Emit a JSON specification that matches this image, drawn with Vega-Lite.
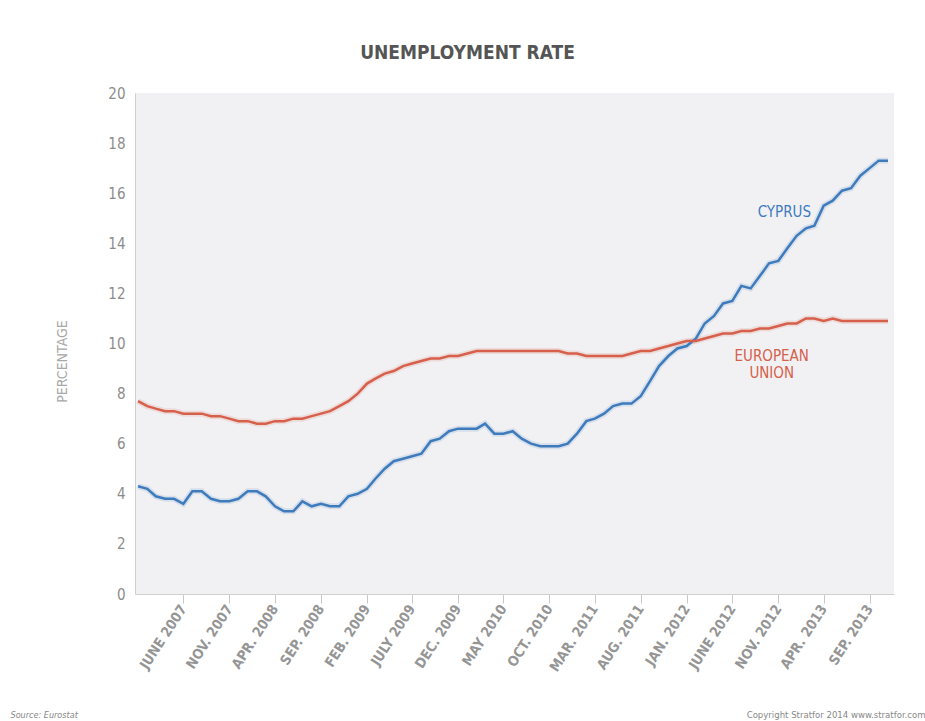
{
  "$schema": "https://vega.github.io/schema/vega-lite/v6.json",
  "width": 759,
  "height": 501,
  "autosize": {"type": "none"},
  "padding": {"left": 135, "top": 93, "right": 31, "bottom": 127},
  "background": "#ffffff",
  "config": {
    "font": "'DejaVu Sans Condensed', 'Liberation Sans Narrow', 'Open Sans', sans-serif",
    "view": {"fill": "#f1f1f3", "stroke": null}
  },
  "title": {
    "text": "UNEMPLOYMENT RATE",
    "anchor": "middle",
    "frame": "bounds",
    "fontSize": 19,
    "fontWeight": "bold",
    "color": "#555555",
    "baseline": "alphabetic",
    "offset": 8
  },
  "datasets": {
    "series": [
      {"date": "2007-01-01", "series": "Cyprus", "value": 4.3},
      {"date": "2007-02-01", "series": "Cyprus", "value": 4.2},
      {"date": "2007-03-01", "series": "Cyprus", "value": 3.9},
      {"date": "2007-04-01", "series": "Cyprus", "value": 3.8},
      {"date": "2007-05-01", "series": "Cyprus", "value": 3.8},
      {"date": "2007-06-01", "series": "Cyprus", "value": 3.6},
      {"date": "2007-07-01", "series": "Cyprus", "value": 4.1},
      {"date": "2007-08-01", "series": "Cyprus", "value": 4.1},
      {"date": "2007-09-01", "series": "Cyprus", "value": 3.8},
      {"date": "2007-10-01", "series": "Cyprus", "value": 3.7},
      {"date": "2007-11-01", "series": "Cyprus", "value": 3.7},
      {"date": "2007-12-01", "series": "Cyprus", "value": 3.8},
      {"date": "2008-01-01", "series": "Cyprus", "value": 4.1},
      {"date": "2008-02-01", "series": "Cyprus", "value": 4.1},
      {"date": "2008-03-01", "series": "Cyprus", "value": 3.9},
      {"date": "2008-04-01", "series": "Cyprus", "value": 3.5},
      {"date": "2008-05-01", "series": "Cyprus", "value": 3.3},
      {"date": "2008-06-01", "series": "Cyprus", "value": 3.3},
      {"date": "2008-07-01", "series": "Cyprus", "value": 3.7},
      {"date": "2008-08-01", "series": "Cyprus", "value": 3.5},
      {"date": "2008-09-01", "series": "Cyprus", "value": 3.6},
      {"date": "2008-10-01", "series": "Cyprus", "value": 3.5},
      {"date": "2008-11-01", "series": "Cyprus", "value": 3.5},
      {"date": "2008-12-01", "series": "Cyprus", "value": 3.9},
      {"date": "2009-01-01", "series": "Cyprus", "value": 4.0},
      {"date": "2009-02-01", "series": "Cyprus", "value": 4.2},
      {"date": "2009-03-01", "series": "Cyprus", "value": 4.6},
      {"date": "2009-04-01", "series": "Cyprus", "value": 5.0},
      {"date": "2009-05-01", "series": "Cyprus", "value": 5.3},
      {"date": "2009-06-01", "series": "Cyprus", "value": 5.4},
      {"date": "2009-07-01", "series": "Cyprus", "value": 5.5},
      {"date": "2009-08-01", "series": "Cyprus", "value": 5.6},
      {"date": "2009-09-01", "series": "Cyprus", "value": 6.1},
      {"date": "2009-10-01", "series": "Cyprus", "value": 6.2},
      {"date": "2009-11-01", "series": "Cyprus", "value": 6.5},
      {"date": "2009-12-01", "series": "Cyprus", "value": 6.6},
      {"date": "2010-01-01", "series": "Cyprus", "value": 6.6},
      {"date": "2010-02-01", "series": "Cyprus", "value": 6.6},
      {"date": "2010-03-01", "series": "Cyprus", "value": 6.8},
      {"date": "2010-04-01", "series": "Cyprus", "value": 6.4},
      {"date": "2010-05-01", "series": "Cyprus", "value": 6.4},
      {"date": "2010-06-01", "series": "Cyprus", "value": 6.5},
      {"date": "2010-07-01", "series": "Cyprus", "value": 6.2},
      {"date": "2010-08-01", "series": "Cyprus", "value": 6.0},
      {"date": "2010-09-01", "series": "Cyprus", "value": 5.9},
      {"date": "2010-10-01", "series": "Cyprus", "value": 5.9},
      {"date": "2010-11-01", "series": "Cyprus", "value": 5.9},
      {"date": "2010-12-01", "series": "Cyprus", "value": 6.0},
      {"date": "2011-01-01", "series": "Cyprus", "value": 6.4},
      {"date": "2011-02-01", "series": "Cyprus", "value": 6.9},
      {"date": "2011-03-01", "series": "Cyprus", "value": 7.0},
      {"date": "2011-04-01", "series": "Cyprus", "value": 7.2},
      {"date": "2011-05-01", "series": "Cyprus", "value": 7.5},
      {"date": "2011-06-01", "series": "Cyprus", "value": 7.6},
      {"date": "2011-07-01", "series": "Cyprus", "value": 7.6},
      {"date": "2011-08-01", "series": "Cyprus", "value": 7.9},
      {"date": "2011-09-01", "series": "Cyprus", "value": 8.5},
      {"date": "2011-10-01", "series": "Cyprus", "value": 9.1},
      {"date": "2011-11-01", "series": "Cyprus", "value": 9.5},
      {"date": "2011-12-01", "series": "Cyprus", "value": 9.8},
      {"date": "2012-01-01", "series": "Cyprus", "value": 9.9},
      {"date": "2012-02-01", "series": "Cyprus", "value": 10.2},
      {"date": "2012-03-01", "series": "Cyprus", "value": 10.8},
      {"date": "2012-04-01", "series": "Cyprus", "value": 11.1},
      {"date": "2012-05-01", "series": "Cyprus", "value": 11.6},
      {"date": "2012-06-01", "series": "Cyprus", "value": 11.7},
      {"date": "2012-07-01", "series": "Cyprus", "value": 12.3},
      {"date": "2012-08-01", "series": "Cyprus", "value": 12.2},
      {"date": "2012-09-01", "series": "Cyprus", "value": 12.7},
      {"date": "2012-10-01", "series": "Cyprus", "value": 13.2},
      {"date": "2012-11-01", "series": "Cyprus", "value": 13.3},
      {"date": "2012-12-01", "series": "Cyprus", "value": 13.8},
      {"date": "2013-01-01", "series": "Cyprus", "value": 14.3},
      {"date": "2013-02-01", "series": "Cyprus", "value": 14.6},
      {"date": "2013-03-01", "series": "Cyprus", "value": 14.7},
      {"date": "2013-04-01", "series": "Cyprus", "value": 15.5},
      {"date": "2013-05-01", "series": "Cyprus", "value": 15.7},
      {"date": "2013-06-01", "series": "Cyprus", "value": 16.1},
      {"date": "2013-07-01", "series": "Cyprus", "value": 16.2},
      {"date": "2013-08-01", "series": "Cyprus", "value": 16.7},
      {"date": "2013-09-01", "series": "Cyprus", "value": 17.0},
      {"date": "2013-10-01", "series": "Cyprus", "value": 17.3},
      {"date": "2013-11-01", "series": "Cyprus", "value": 17.3},
      {"date": "2007-01-01", "series": "European Union", "value": 7.7},
      {"date": "2007-02-01", "series": "European Union", "value": 7.5},
      {"date": "2007-03-01", "series": "European Union", "value": 7.4},
      {"date": "2007-04-01", "series": "European Union", "value": 7.3},
      {"date": "2007-05-01", "series": "European Union", "value": 7.3},
      {"date": "2007-06-01", "series": "European Union", "value": 7.2},
      {"date": "2007-07-01", "series": "European Union", "value": 7.2},
      {"date": "2007-08-01", "series": "European Union", "value": 7.2},
      {"date": "2007-09-01", "series": "European Union", "value": 7.1},
      {"date": "2007-10-01", "series": "European Union", "value": 7.1},
      {"date": "2007-11-01", "series": "European Union", "value": 7.0},
      {"date": "2007-12-01", "series": "European Union", "value": 6.9},
      {"date": "2008-01-01", "series": "European Union", "value": 6.9},
      {"date": "2008-02-01", "series": "European Union", "value": 6.8},
      {"date": "2008-03-01", "series": "European Union", "value": 6.8},
      {"date": "2008-04-01", "series": "European Union", "value": 6.9},
      {"date": "2008-05-01", "series": "European Union", "value": 6.9},
      {"date": "2008-06-01", "series": "European Union", "value": 7.0},
      {"date": "2008-07-01", "series": "European Union", "value": 7.0},
      {"date": "2008-08-01", "series": "European Union", "value": 7.1},
      {"date": "2008-09-01", "series": "European Union", "value": 7.2},
      {"date": "2008-10-01", "series": "European Union", "value": 7.3},
      {"date": "2008-11-01", "series": "European Union", "value": 7.5},
      {"date": "2008-12-01", "series": "European Union", "value": 7.7},
      {"date": "2009-01-01", "series": "European Union", "value": 8.0},
      {"date": "2009-02-01", "series": "European Union", "value": 8.4},
      {"date": "2009-03-01", "series": "European Union", "value": 8.6},
      {"date": "2009-04-01", "series": "European Union", "value": 8.8},
      {"date": "2009-05-01", "series": "European Union", "value": 8.9},
      {"date": "2009-06-01", "series": "European Union", "value": 9.1},
      {"date": "2009-07-01", "series": "European Union", "value": 9.2},
      {"date": "2009-08-01", "series": "European Union", "value": 9.3},
      {"date": "2009-09-01", "series": "European Union", "value": 9.4},
      {"date": "2009-10-01", "series": "European Union", "value": 9.4},
      {"date": "2009-11-01", "series": "European Union", "value": 9.5},
      {"date": "2009-12-01", "series": "European Union", "value": 9.5},
      {"date": "2010-01-01", "series": "European Union", "value": 9.6},
      {"date": "2010-02-01", "series": "European Union", "value": 9.7},
      {"date": "2010-03-01", "series": "European Union", "value": 9.7},
      {"date": "2010-04-01", "series": "European Union", "value": 9.7},
      {"date": "2010-05-01", "series": "European Union", "value": 9.7},
      {"date": "2010-06-01", "series": "European Union", "value": 9.7},
      {"date": "2010-07-01", "series": "European Union", "value": 9.7},
      {"date": "2010-08-01", "series": "European Union", "value": 9.7},
      {"date": "2010-09-01", "series": "European Union", "value": 9.7},
      {"date": "2010-10-01", "series": "European Union", "value": 9.7},
      {"date": "2010-11-01", "series": "European Union", "value": 9.7},
      {"date": "2010-12-01", "series": "European Union", "value": 9.6},
      {"date": "2011-01-01", "series": "European Union", "value": 9.6},
      {"date": "2011-02-01", "series": "European Union", "value": 9.5},
      {"date": "2011-03-01", "series": "European Union", "value": 9.5},
      {"date": "2011-04-01", "series": "European Union", "value": 9.5},
      {"date": "2011-05-01", "series": "European Union", "value": 9.5},
      {"date": "2011-06-01", "series": "European Union", "value": 9.5},
      {"date": "2011-07-01", "series": "European Union", "value": 9.6},
      {"date": "2011-08-01", "series": "European Union", "value": 9.7},
      {"date": "2011-09-01", "series": "European Union", "value": 9.7},
      {"date": "2011-10-01", "series": "European Union", "value": 9.8},
      {"date": "2011-11-01", "series": "European Union", "value": 9.9},
      {"date": "2011-12-01", "series": "European Union", "value": 10.0},
      {"date": "2012-01-01", "series": "European Union", "value": 10.1},
      {"date": "2012-02-01", "series": "European Union", "value": 10.1},
      {"date": "2012-03-01", "series": "European Union", "value": 10.2},
      {"date": "2012-04-01", "series": "European Union", "value": 10.3},
      {"date": "2012-05-01", "series": "European Union", "value": 10.4},
      {"date": "2012-06-01", "series": "European Union", "value": 10.4},
      {"date": "2012-07-01", "series": "European Union", "value": 10.5},
      {"date": "2012-08-01", "series": "European Union", "value": 10.5},
      {"date": "2012-09-01", "series": "European Union", "value": 10.6},
      {"date": "2012-10-01", "series": "European Union", "value": 10.6},
      {"date": "2012-11-01", "series": "European Union", "value": 10.7},
      {"date": "2012-12-01", "series": "European Union", "value": 10.8},
      {"date": "2013-01-01", "series": "European Union", "value": 10.8},
      {"date": "2013-02-01", "series": "European Union", "value": 11.0},
      {"date": "2013-03-01", "series": "European Union", "value": 11.0},
      {"date": "2013-04-01", "series": "European Union", "value": 10.9},
      {"date": "2013-05-01", "series": "European Union", "value": 11.0},
      {"date": "2013-06-01", "series": "European Union", "value": 10.9},
      {"date": "2013-07-01", "series": "European Union", "value": 10.9},
      {"date": "2013-08-01", "series": "European Union", "value": 10.9},
      {"date": "2013-09-01", "series": "European Union", "value": 10.9},
      {"date": "2013-10-01", "series": "European Union", "value": 10.9},
      {"date": "2013-11-01", "series": "European Union", "value": 10.9}
    ],
    "labels": [
      {"date": "2012-11-21", "series": "Cyprus", "value": 15.25, "label": "CYPRUS"},
      {"date": "2012-10-10", "series": "European Union", "value": 9.52, "label": "EUROPEAN\nUNION"}
    ]
  },
  "layer": [
    {
      "data": {"name": "series"},
      "mark": {"type": "line", "strokeWidth": 6, "opacity": 0.15},
      "encoding": {
        "x": {"field": "date", "type": "temporal", "scale": {"type": "utc", "domain": ["2006-12-22", "2013-11-21"]}, "axis": null},
        "y": {"field": "value", "type": "quantitative", "scale": {"domain": [0, 20], "nice": false}, "axis": null},
        "color": {"field": "series", "type": "nominal", "scale": {"domain": ["Cyprus", "European Union"], "range": ["#3e7bbd", "#d6604b"]}, "legend": null}
      }
    },
    {
      "data": {"name": "series"},
      "mark": {"type": "line", "strokeWidth": 2.5},
      "encoding": {
        "x": {
          "field": "date", "type": "temporal",
          "scale": {"type": "utc", "domain": ["2006-12-22", "2013-11-21"]},
          "axis": {
            "orient": "bottom",
            "values": [
              {"year": 2007, "month": 6, "date": 1, "utc": true},
              {"year": 2007, "month": 11, "date": 1, "utc": true},
              {"year": 2008, "month": 4, "date": 1, "utc": true},
              {"year": 2008, "month": 9, "date": 1, "utc": true},
              {"year": 2009, "month": 2, "date": 1, "utc": true},
              {"year": 2009, "month": 7, "date": 1, "utc": true},
              {"year": 2009, "month": 12, "date": 1, "utc": true},
              {"year": 2010, "month": 5, "date": 1, "utc": true},
              {"year": 2010, "month": 10, "date": 1, "utc": true},
              {"year": 2011, "month": 3, "date": 1, "utc": true},
              {"year": 2011, "month": 8, "date": 1, "utc": true},
              {"year": 2012, "month": 1, "date": 1, "utc": true},
              {"year": 2012, "month": 6, "date": 1, "utc": true},
              {"year": 2012, "month": 11, "date": 1, "utc": true},
              {"year": 2013, "month": 4, "date": 1, "utc": true},
              {"year": 2013, "month": 9, "date": 1, "utc": true}
            ],
            "labelExpr": "(utcmonth(datum.value) == 4 ? 'MAY' : utcmonth(datum.value) == 5 ? 'JUNE' : utcmonth(datum.value) == 6 ? 'JULY' : upper(utcFormat(datum.value, '%b')) + '.') + ' ' + utcFormat(datum.value, '%Y')",
            "labelAngle": -57,
            "labelAlign": "right",
            "labelBaseline": "middle",
            "labelFontSize": 14,
            "labelFontWeight": "bold",
            "labelColor": "#959595",
            "labelPadding": 3,
            "labelOverlap": false,
            "tickColor": "#c8c8c8",
            "tickSize": 9,
            "domainColor": "#d0d0d0",
            "grid": false,
            "title": "Source: Eurostat",
            "titleX": -125,
            "titleY": 120,
            "titleAlign": "left",
            "titleAnchor": null,
            "titleBaseline": "middle",
            "titleFontStyle": "italic",
            "titleFontWeight": "normal",
            "titleFontSize": 9,
            "titleColor": "#888888"
          }
        },
        "y": {
          "field": "value", "type": "quantitative",
          "scale": {"domain": [0, 20], "nice": false},
          "axis": {
            "orient": "left",
            "values": [0, 2, 4, 6, 8, 10, 12, 14, 16, 18, 20],
            "ticks": false,
            "labelFontSize": 15,
            "labelColor": "#8c8c8c",
            "labelPadding": 10,
            "domainColor": "#d0d0d0",
            "gridColor": "#dcdcdc",
            "gridWidth": 1,
            "title": "PERCENTAGE",
            "titleColor": "#a8a8a8",
            "titleFontWeight": "normal",
            "titleFontSize": 14,
            "titlePadding": 38,
            "titleY": 268
          }
        },
        "color": {"field": "series", "type": "nominal", "scale": {"domain": ["Cyprus", "European Union"], "range": ["#3e7bbd", "#d6604b"]}, "legend": null}
      }
    },
    {
      "data": {"name": "labels"},
      "mark": {"type": "text", "fontSize": 15, "align": "center", "baseline": "middle", "lineBreak": "\n", "lineHeight": 17},
      "encoding": {
        "x": {
          "field": "date", "type": "temporal",
          "scale": {"type": "utc", "domain": ["2006-12-22", "2013-11-21"]},
          "axis": {
            "orient": "bottom",
            "labels": false, "ticks": false, "domain": false, "grid": false,
            "title": "Copyright Stratfor 2014     www.stratfor.com",
            "titleX": 790,
            "titleY": 120,
            "titleAlign": "right",
            "titleAnchor": null,
            "titleBaseline": "middle",
            "titleFontWeight": "normal",
            "titleFontSize": 9.5,
            "titleColor": "#888888"
          }
        },
        "y": {"field": "value", "type": "quantitative", "scale": {"domain": [0, 20], "nice": false}, "axis": null},
        "text": {"field": "label"},
        "color": {"field": "series", "type": "nominal", "scale": {"domain": ["Cyprus", "European Union"], "range": ["#3e7bbd", "#d6604b"]}, "legend": null}
      }
    }
  ],
  "resolve": {"axis": {"x": "independent", "y": "independent"}}
}
